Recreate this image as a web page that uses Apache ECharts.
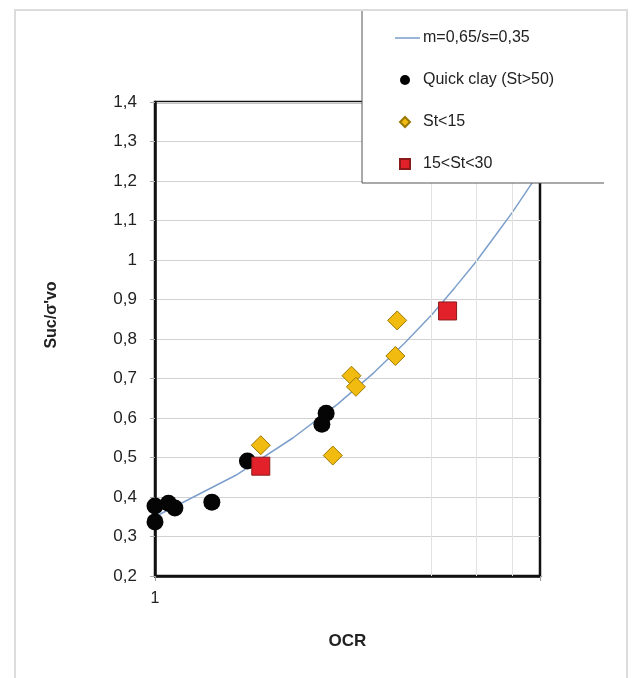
<!DOCTYPE html>
<html>
<head>
<meta charset="utf-8">
<script src="https://cdn.jsdelivr.net/npm/echarts@6/dist/echarts.min.js"></script>
<style>html,body{margin:0;padding:0;background:#fff;}#c{width:636px;height:678px;}</style>
</head>
<body>
<div id="c"></div>
<script>
// ---- data ----
const seriesNames = ['m=0,65/s=0,35', 'Quick clay (St>50)', 'St<15', '15<St<30'];
const curveOCR = [1, 1.5, 2, 2.5, 3, 3.5, 4, 4.5, 5, 5.5, 6, 6.5, 6.9];
const curveSu  = [0.35, 0.455, 0.55, 0.635, 0.715, 0.79, 0.86, 0.93, 0.995, 1.06, 1.12, 1.18, 1.225];
const quickOCR = [1.0, 1.0, 1.07, 1.105, 1.33, 1.59, 2.31, 2.36];
const quickSu  = [0.337, 0.377, 0.384, 0.372, 0.387, 0.491, 0.584, 0.612];
const st15OCR  = [1.70, 2.44, 2.68, 2.74, 3.34, 3.37];
const st15Su   = [0.531, 0.505, 0.707, 0.679, 0.757, 0.847];
const st30OCR  = [1.70, 4.34];
const st30Su   = [0.478, 0.871];
const yTickValues = [0.2, 0.3, 0.4, 0.5, 0.6, 0.7, 0.8, 0.9, 1.0, 1.1, 1.2, 1.3, 1.4];
const yTickLabels = ['0,2', '0,3', '0,4', '0,5', '0,6', '0,7', '0,8', '0,9', '1', '1,1', '1,2', '1,3', '1,4'];
const xTickLabels = ['1'];
const xMinorGrid = [4, 5, 6];

const zip = (a, b) => a.map((v, i) => [v, b[i]]);

const chart = echarts.init(document.getElementById('c'), null, {renderer: 'canvas'});
const font = 'Arial, "Liberation Sans", Helvetica, sans-serif';
const legendText = {fontSize: 16, color: '#222', fontFamily: font};

chart.setOption({
  backgroundColor: '#fff',
  animation: false,
  textStyle: {fontFamily: font},
  grid: {left: 155, top: 102, right: 96, bottom: 102, show: true, borderColor: '#111', borderWidth: 2.5, backgroundColor: 'transparent'},
  xAxis: {
    type: 'log', logBase: 10, min: 1, max: 6.9,
    name: 'OCR', nameLocation: 'middle', nameGap: 57,
    nameTextStyle: {fontSize: 17, fontWeight: 'bold', color: '#222', fontFamily: font},
    axisLine: {show: true, lineStyle: {color: '#111', width: 2.5}},
    axisTick: {show: true, length: 5, lineStyle: {color: '#999'}},
    axisLabel: {fontSize: 16, color: '#222', margin: 15, formatter: v => (Math.abs(v - 1) < 1e-9 ? xTickLabels[0] : '')},
    splitLine: {show: false},
    minorTick: {show: false}
  },
  yAxis: {
    type: 'value', min: 0.2, max: 1.4, interval: 0.1,
    axisLine: {show: true, lineStyle: {color: '#111', width: 2.5}},
    axisTick: {show: true, length: 5, lineStyle: {color: '#aaa'}},
    axisLabel: {fontSize: 17, color: '#222', margin: 18, formatter: v => {
      const i = yTickValues.findIndex(t => Math.abs(t - v) < 1e-6);
      return i >= 0 ? yTickLabels[i] : '';
    }},
    splitLine: {show: true, lineStyle: {color: '#d2d2d2', width: 1}}
  },
  legend: [
    {
      orient: 'vertical', left: 390, top: 25, z: 60, padding: 5,
      itemWidth: 25, itemHeight: 10,
      textStyle: Object.assign({padding: [0, 0, 0, -2]}, legendText),
      data: [{name: seriesNames[0], icon: 'path://M0,0h26v1.6h-26z', itemStyle: {color: '#7d9fcc'}}]
    },
    {
      orient: 'vertical', left: 394, top: 67, z: 60, padding: 5,
      itemWidth: 10, itemHeight: 10, itemGap: 26,
      textStyle: Object.assign({padding: [0, 0, 0, 8]}, legendText),
      data: [
        {name: seriesNames[1], icon: 'circle', itemStyle: {color: '#000'}},
        {name: seriesNames[2], icon: 'diamond'},
        {name: seriesNames[3], icon: 'rect'}
      ]
    }
  ],
  graphic: [
    {type: 'rect', z: 50, shape: {x: 15, y: 10, width: 612, height: 675}, style: {fill: 'none', stroke: '#dcdcdc', lineWidth: 2}, silent: true},
    {type: 'rect', z: 50, shape: {x: 362, y: 11, width: 242, height: 172}, style: {fill: '#fff', stroke: 'none'}, silent: true},
    {type: 'line', z: 51, shape: {x1: 362, y1: 11, x2: 362, y2: 183}, style: {stroke: '#555', lineWidth: 1}, silent: true},
    {type: 'line', z: 51, shape: {x1: 362, y1: 183, x2: 604, y2: 183}, style: {stroke: '#555', lineWidth: 1}, silent: true},
    {type: 'text', z: 51, x: 52, y: 315, rotation: Math.PI / 2,
      style: {text: "Suc/σ'vo", font: 'bold 16px ' + font, fill: '#222', align: 'center', verticalAlign: 'middle'}}
  ],
  series: [
    {
      name: seriesNames[0], type: 'line', data: zip(curveOCR, curveSu), symbol: 'none', smooth: false, z: 2,
      lineStyle: {color: '#7d9fcc', width: 1.5}, itemStyle: {color: '#7d9fcc'},
      markLine: {
        silent: true, symbol: 'none', label: {show: false},
        lineStyle: {color: '#e2e2e2', width: 1, type: 'solid'},
        data: xMinorGrid.map(v => ({xAxis: v}))
      }
    },
    {
      name: seriesNames[1], type: 'scatter', data: zip(quickOCR, quickSu), symbol: 'circle', symbolSize: 17, z: 3,
      itemStyle: {color: '#050505', opacity: 1}
    },
    {
      name: seriesNames[2], type: 'scatter', data: zip(st15OCR, st15Su), symbol: 'diamond', symbolSize: 19, z: 4,
      itemStyle: {color: '#f2bb10', borderColor: '#9a7800', borderWidth: 1, opacity: 1}
    },
    {
      name: seriesNames[3], type: 'scatter', data: zip(st30OCR, st30Su), symbol: 'rect', symbolSize: 18, z: 5,
      itemStyle: {color: '#e3212b', borderColor: '#8a1a1a', borderWidth: 1, opacity: 1}
    }
  ]
});
</script>
</body>
</html>
